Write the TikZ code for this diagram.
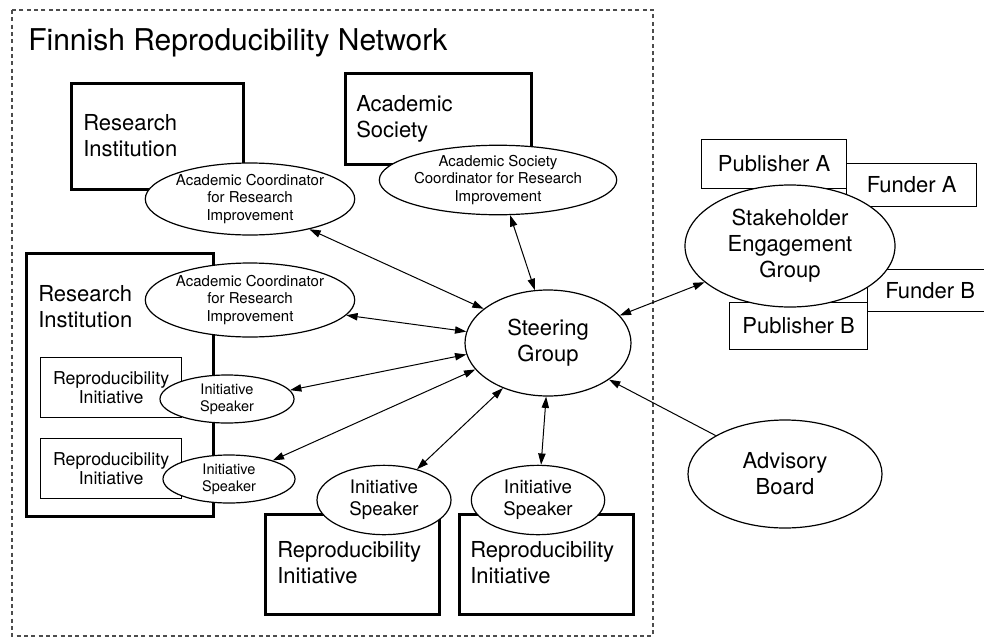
\documentclass[tikz,border=0pt]{standalone}
\usepackage{fontspec}
\setmainfont{TeX Gyre Heros}
\usetikzlibrary{shapes.geometric,arrows.meta}
\begin{document}
\begin{tikzpicture}[x=0.75pt,y=-0.75pt,
  thickbox/.style={draw, line width=2pt, fill=white, rectangle, anchor=north west, inner sep=0pt},
  thinbox/.style={draw, line width=0.9pt, fill=white, rectangle, anchor=north west, inner sep=0pt, align=center},
  ell/.style={draw, line width=0.9pt, fill=white, ellipse, inner sep=0pt, align=center},
  bigtxt/.style={font=\fontsize{16.5}{19.5}\selectfont},
  smalltxt/.style={font=\fontsize{11.25}{13}\selectfont},
  istxt/.style={font=\fontsize{10.9}{12.5}\selectfont},
  isbig/.style={font=\fontsize{14}{16.5}\selectfont},
  rptxt/.style={font=\fontsize{13.3}{14.5}\selectfont},
  lbl/.style={inner sep=0pt, anchor=west, align=left},
  tip/.tip={Triangle[length=8.5pt,width=5.5pt]},
  link/.style={line width=0.75pt, tip-tip},
  onelink/.style={line width=0.75pt, -tip},
]
\useasboundingbox (0,0) rectangle (984,639);
% outer dashed frame
\draw[black!70, line width=0.9pt, dash pattern=on 3pt off 2.5pt] (12,10) rectangle (653,636);
\node[font=\fontsize{22.5}{27}\selectfont, anchor=base west, inner sep=0pt] (title) at (28,50) {Finnish Reproducibility Network};

% boxes
\node[thickbox, minimum width=129pt, minimum height=79.5pt] (ri1) at (70,82) {};
\node[bigtxt, lbl] (ri1t) at (83,136) {Research\\Institution};
\node[thickbox, minimum width=139.5pt, minimum height=68.25pt] (as) at (344,72) {};
\node[bigtxt, lbl] (ast) at (356,119) {Academic\\Society};
\node[thickbox, minimum width=140.25pt, minimum height=197.25pt] (ri2) at (25,252) {};
\node[bigtxt, lbl] (ri2t) at (38,307) {Research\\Institution};
\node[thinbox, rptxt, minimum width=105.75pt, minimum height=45pt] (rp1) at (40,357) {Reproducibility\\Initiative};
\node[thinbox, rptxt, minimum width=105.75pt, minimum height=45pt] (rp2) at (40,438) {Reproducibility\\Initiative};
\node[thickbox, minimum width=130.5pt, minimum height=75pt] (rp3) at (264,513) {};
\node[bigtxt, lbl] (rp3t) at (277,563) {Reproducibility\\Initiative};
\node[thickbox, minimum width=130.5pt, minimum height=75pt] (rp4) at (458,513) {};
\node[bigtxt, lbl] (rp4t) at (470,563) {Reproducibility\\Initiative};

% stakeholder boxes
\node[thinbox, bigtxt, minimum width=97.5pt, minimum height=32.25pt] (fa) at (846,163) {Funder A};
\node[thinbox, bigtxt, minimum width=93.75pt, minimum height=31.5pt] (fb) at (867,269) {Funder B};
\node[thinbox, bigtxt, minimum width=108.75pt, minimum height=36.75pt] (pa) at (701,139) {Publisher A};
\node[thinbox, bigtxt, minimum width=103.5pt, minimum height=35.25pt] (pb) at (729,302) {Publisher B};

% ellipses
\node[ell, smalltxt, minimum width=153pt, minimum height=54pt] (ac1) at (250,199) {Academic Coordinator\\for Research\\Improvement};
\node[ell, smalltxt, minimum width=153pt, minimum height=55.5pt] (ac2) at (250,300) {Academic Coordinator\\for Research\\Improvement};
\node[ell, smalltxt, minimum width=177pt, minimum height=49.5pt] (asc) at (498,180) {Academic Society\\Coordinator for Research\\Improvement};
\node[ell, bigtxt, minimum width=124.5pt, minimum height=79.5pt] (sg) at (548,343) {Steering\\Group};
\node[ell, bigtxt, minimum width=157.5pt, minimum height=91.5pt] (seg) at (790,246) {Stakeholder\\Engagement\\Group};
\node[ell, bigtxt, minimum width=145.5pt, minimum height=81pt] (adv) at (785,474) {Advisory\\Board};
\node[ell, istxt, minimum width=100.5pt, minimum height=36pt] (is1) at (227,399) {Initiative\\Speaker};
\node[ell, istxt, minimum width=99pt, minimum height=36pt] (is2) at (229,479) {Initiative\\Speaker};
\node[ell, isbig, minimum width=100.5pt, minimum height=52pt] (is3) at (384,500) {Initiative\\Speaker};
\node[ell, isbig, minimum width=100pt, minimum height=52pt] (is4) at (538,500) {Initiative\\Speaker};

% connectors
\draw[link] (ac1.-27) -- (sg.152);
\draw[link] (asc.-71) -- (sg.104);
\draw[link] (ac2.-9) -- (sg.172);
\draw[link] (is1.8) -- (sg.188);
\draw[link] (is2.23) -- (sg.200);
\draw[link] (is3.43) -- (sg.225);
\draw[link] (is4.85) -- (sg.268);
\draw[link] (sg.21) -- (seg.203);
\draw[onelink] (adv.151) -- (sg.-31);
\end{tikzpicture}
\end{document}
